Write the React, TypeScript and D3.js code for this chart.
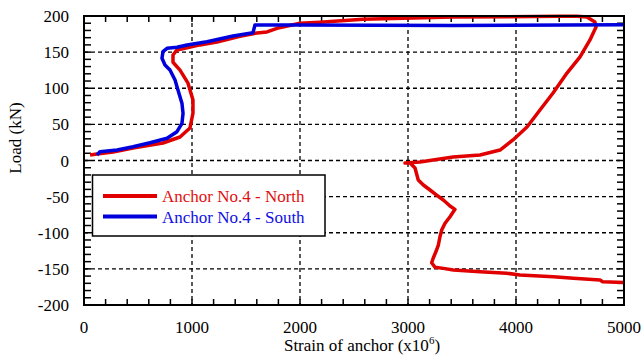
import * as d3 from "d3";

// Anchor No.4 - North: strain (x10^-6) / load (kN)
const northStrain = [
  56, 120, 269, 454, 731, 889, 981, 1009, 1009, 963, 889, 824, 824, 861, 954, 1074, 1231,
  1444, 1602, 1694, 1787, 2000, 2185, 2583, 3417, 4407, 4565, 4657, 4731, 4741, 4685, 4593,
  4472, 4343, 4222, 4102, 3972, 3852, 3667, 3417, 3111, 2972, 3019, 3065, 3095, 3142, 3204,
  3265, 3327, 3389, 3435, 3389, 3343, 3312, 3296, 3281, 3259, 3234, 3219, 3250, 3327, 3420,
  3667, 3914, 4037, 4346, 4531, 4778, 4802, 5000,
];
const northLoad = [
  7.6, 9, 11.8, 17.3, 24.2, 32.5, 45, 65.7, 83.7, 107, 125, 136, 146, 153, 156, 160, 164,
  172, 176.5, 178, 183, 190, 191.5, 195.4, 198.6, 199.5, 199.5, 198.6, 191.7, 184.8, 166.8,
  143.3, 121, 93.4, 69.9, 46.4, 28.4, 14.5, 7.6, 4.8, -2, -3.5, -3.5, -10.4, -27, -33.9,
  -40.8, -47.8, -54.7, -63, -67.6, -77.8, -86.9, -96.2, -105.5, -117, -126, -135, -141.5,
  -147.8, -149.3, -151.6, -154, -156, -158.5, -160.8, -163, -165.4, -167.7, -169,
];

// Anchor No.4 - South
const southStrain = [
  120, 148, 306, 454, 611, 769, 861, 907, 917, 907, 870, 843, 796, 750, 722, 731, 769, 861,
  954, 1139, 1380, 1565, 1583, 2000, 3417, 5000,
];
const southLoad = [
  7.6, 12.2, 14.5, 19.1, 24.6, 30.7, 39.9, 51.5, 65.3, 79.2, 97.6, 111.4, 125.3, 132.2,
  141.5, 150.6, 155.3, 156.7, 159.8, 164.4, 172.3, 176.9, 187.5, 187.5, 187, 188,
];

const xTicks = [0, 1000, 2000, 3000, 4000, 5000];
const yTicks = [-200, -150, -100, -50, 0, 50, 100, 150, 200];
const seriesNames = ["Anchor No.4 - North", "Anchor No.4 - South"];
const seriesColors = ["#e00000", "#0000dd"];
const textColors = ["#e01010", "#1010e0"];

const W = 641;
const H = 361;
const margin = { top: 16, right: 17, bottom: 56, left: 84 };
const serif = "serif";

export default function App() {
  const x = d3.scaleLinear().domain([0, 5000]).range([margin.left, W - margin.right]);
  const y = d3.scaleLinear().domain([-200, 200]).range([H - margin.bottom, margin.top]);

  const line = d3
    .line<[number, number]>()
    .x((d) => x(d[0]))
    .y((d) => y(d[1]));

  const series = [
    northStrain.map((s, i) => [s, northLoad[i]] as [number, number]),
    southStrain.map((s, i) => [s, southLoad[i]] as [number, number]),
  ];

  const x0 = x(0), x1 = x(5000), y0 = y(-200), y1 = y(200);
  const minorX = d3.range(200, 5000, 200);
  const minorY = d3.range(-190, 200, 10);

  return (
    <svg width={W} height={H} style={{ position: "absolute", left: 0, top: 0 }}>
      <rect width={W} height={H} fill="#fff" />

      {/* grid */}
      <g stroke="#000" strokeWidth={1.3} strokeDasharray="4,3">
        {xTicks.slice(1, -1).map((t) => (
          <line key={"gx" + t} x1={x(t)} x2={x(t)} y1={y1} y2={y0} />
        ))}
        {yTicks.slice(1, -1).map((t) => (
          <line key={"gy" + t} x1={x0} x2={x1} y1={y(t)} y2={y(t)} />
        ))}
      </g>

      {/* inward ticks */}
      <g stroke="#000" strokeWidth={1.5}>
        {minorX.map((t) => (
          <g key={"tx" + t}>
            <line x1={x(t)} x2={x(t)} y1={y0} y2={y0 - 6} />
            <line x1={x(t)} x2={x(t)} y1={y1} y2={y1 + 6} />
          </g>
        ))}
        {minorY.map((t) => (
          <g key={"ty" + t}>
            <line x1={x0} x2={x0 + 7} y1={y(t)} y2={y(t)} />
            <line x1={x1} x2={x1 - 7} y1={y(t)} y2={y(t)} />
          </g>
        ))}
      </g>

      {/* curves */}
      {series.map((pts, i) => (
        <path
          key={seriesNames[i]}
          d={line(pts)!}
          fill="none"
          stroke={seriesColors[i]}
          strokeWidth={3.5}
          strokeLinejoin="round"
        />
      ))}

      {/* frame */}
      <rect x={x0} y={y1} width={x1 - x0} height={y0 - y1} fill="none" stroke="#000" strokeWidth={2} />

      {/* labels */}
      {yTicks.map((t) => (
        <text key={"ly" + t} x={x0 - 15} y={y(t) + 6} textAnchor="end" fontSize={17} fontFamily={serif}>
          {t}
        </text>
      ))}
      {xTicks.map((t) => (
        <text key={"lx" + t} x={x(t)} y={333} textAnchor="middle" fontSize={17} fontFamily={serif}>
          {t}
        </text>
      ))}
      <text x={362} y={351} textAnchor="middle" fontSize={17} fontFamily={serif}>
        Strain of anchor (x10<tspan dy={-7} fontSize={11}>6</tspan>
        <tspan dy={7}>)</tspan>
      </text>
      <text transform="translate(21,138) rotate(-90)" textAnchor="middle" fontSize={17} fontFamily={serif}>
        Load (kN)
      </text>

      {/* legend */}
      <rect x={92.5} y={175} width={232.5} height={61} fill="#fff" stroke="#000" strokeWidth={1.5} />
      {seriesNames.map((name, i) => (
        <g key={name}>
          <line
            x1={103}
            x2={157}
            y1={196 + i * 20.5}
            y2={196 + i * 20.5}
            stroke={seriesColors[i]}
            strokeWidth={4}
          />
          <text x={162} y={202 + i * 20.5} fontSize={17} fill={textColors[i]} fontFamily={serif}>
            {name}
          </text>
        </g>
      ))}
    </svg>
  );
}
